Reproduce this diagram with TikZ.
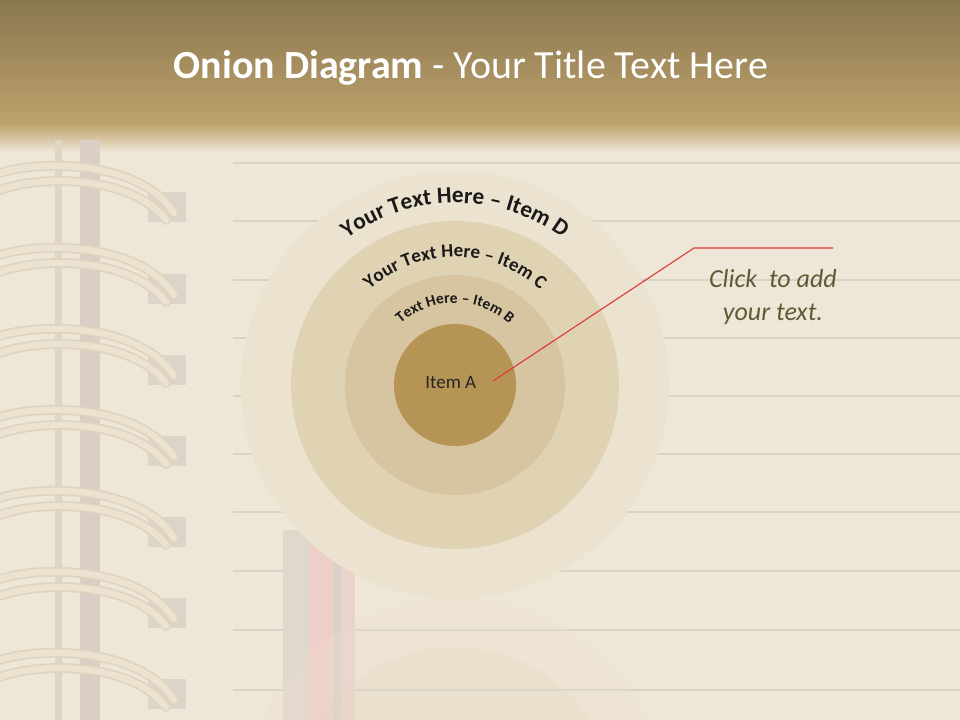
\documentclass[tikz,border=0pt]{standalone}
\usepackage{fontspec}
\setmainfont{Carlito}
\usetikzlibrary{decorations.text,positioning}

\definecolor{paper}{HTML}{EEE6D6}
\definecolor{hdrtop}{HTML}{8A7750}
\definecolor{hdrbot}{HTML}{BDA26C}
\definecolor{rule}{HTML}{D9D2C7}
\definecolor{ringD}{HTML}{ECE2D0}
\definecolor{ringC}{HTML}{E0D3B4}
\definecolor{ringB}{HTML}{D7C4A0}
\definecolor{ringA}{HTML}{B69456}
\definecolor{coilfill}{HTML}{EBE2CF}
\definecolor{coiledge}{HTML}{DFD4C0}
\definecolor{hole}{HTML}{DCD4C8}
\definecolor{spine}{HTML}{DBCEC4}
\definecolor{pencilgray}{HTML}{E0D7CD}
\definecolor{pencilpink}{HTML}{EECFC7}
\definecolor{pencildark}{HTML}{DAD1CA}
\definecolor{pencilrose}{HTML}{E8D4CC}
\definecolor{olive}{HTML}{5E5A36}
\definecolor{callout}{HTML}{E0393B}

\newcommand\arcfontD{\fontsize{16.5}{19}\selectfont\bfseries}
\newcommand\arcfontC{\fontsize{13.5}{16}\selectfont\bfseries}
\newcommand\arcfontB{\fontsize{11}{13}\selectfont\bfseries}

\begin{document}
\begin{tikzpicture}[x=0.025cm,y=0.025cm,
  layer/.style={circle,inner sep=0pt,draw=none},
  coil/.style={line width=7pt,coiledge,line cap=round},
  coiltop/.style={line width=4.5pt,coilfill,line cap=round},
  curved/.style={decorate,decoration={text along path,text align=center,text color=black!90}}]
  \useasboundingbox (0,0) rectangle (960,720);
  % paper and header band
  \fill[paper] (0,0) rectangle (960,720);
  \shade[top color=hdrbot,bottom color=paper] (0,568) rectangle (960,596);
  \shade[top color=hdrtop,bottom color=hdrbot] (0,595) rectangle (960,720);
  \foreach \ly in {163,221,280,338,396,454,512,571,630,690}
    \draw[rule,line width=0.8pt] (233,720-\ly) -- (960,720-\ly);
  % spiral binding
  \fill[black!7!paper] (55,0) rectangle (62,580);
  \fill[spine] (80,0) rectangle (100,580);
  \foreach \ry in {163,245,326,407,488,569,650}{
    \begin{scope}[shift={(0,720-\ry)}]
      \fill[hole] (148,-29) rectangle (186,-59);
      \draw[coil] (0,-10) .. controls (40,3) and (140,3) .. (174,-50);
      \draw[coiltop] (0,-10) .. controls (40,3) and (140,3) .. (174,-50);
      \draw[coil] (0,-27) .. controls (40,-12) and (132,-12) .. (166,-57);
      \draw[coiltop] (0,-27) .. controls (40,-12) and (132,-12) .. (166,-57);
    \end{scope}}
  % pencils at the bottom
  \fill[pencilgray] (283,0) rectangle (310,190);
  \fill[pencilpink] (310,0) rectangle (334,180);
  \fill[pencildark] (334,0) rectangle (341,180);
  \fill[pencilrose] (341,0) rectangle (355,180);
  % faint reflection
  \begin{scope}
    \clip (0,0) rectangle (960,122);
    \fill[ringD,opacity=0.25] (455,-91) circle (214);
    \fill[ringC,opacity=0.18] (455,-91) circle (164);
  \end{scope}

  % onion layers
  \node[layer,fill=ringD,minimum size=10.7cm] (itemD) at (455,335) {};
  \node[layer,fill=ringC,minimum size=8.2cm] (itemC) at (itemD.center) {};
  \node[layer,fill=ringB,minimum size=5.5cm] (itemB) at (itemD.center) {};
  \node[layer,fill=ringA,minimum size=3.05cm,font=\fontsize{13.5}{16}\selectfont,
    text=black!85] (itemA) at (itemD.center) {\raisebox{3pt}{Item A}\hspace*{6pt}};

  \path[curved,decoration={text={|\arcfontD|Your Text Here – Item D}}]
    (itemD.center) ++(160:182) arc[start angle=160,end angle=20,radius=182];
  \path[curved,decoration={text={|\arcfontC|Your Text Here – Item C}}]
    (itemD.center) ++(165:128) arc[start angle=165,end angle=15,radius=128];
  \path[curved,decoration={text={|\arcfontB|Text Here – Item B}}]
    (itemD.center) ++(170:82) arc[start angle=170,end angle=10,radius=82];

  % callout
  \coordinate (tipA) at (493,339);
  \coordinate (elbow) at (694,472);
  \coordinate (tail) at (833,472);
  \draw[callout,line width=0.8pt] (tipA) -- (elbow) -- (tail);
  \node[font=\itshape\fontsize{18.5}{23}\selectfont,text=olive,align=center]
    (note) at (773,423) {Click\ \ to add\\your text.};

  \node[font=\fontsize{28.4}{34}\selectfont,text=white] (title) at (471,652)
    {\textbf{Onion Diagram} - Your Title Text Here};
\end{tikzpicture}
\end{document}
